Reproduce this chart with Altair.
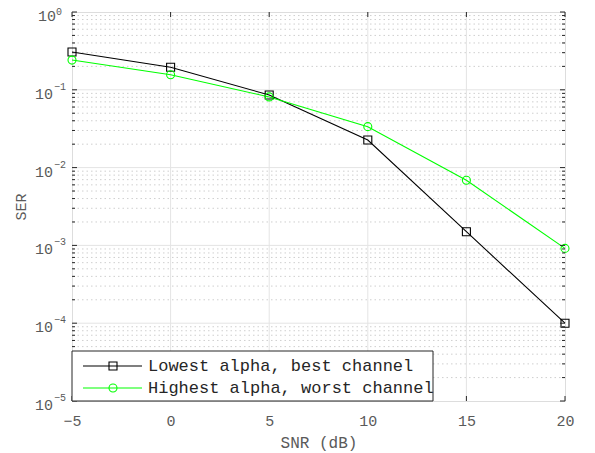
import altair as alt
import pandas as pd

snr = [-5, 0, 5, 10, 15, 20]
ser_best = [0.306, 0.195, 0.0857, 0.0226, 0.00150, 0.000100]
ser_worst = [0.241, 0.156, 0.081, 0.0336, 0.00687, 0.000915]
series_names = ["Lowest alpha, best channel", "Highest alpha, worst channel"]
series_colors = ["#000000", "#00ff00"]
series_shapes = ["square", "circle"]

x_ticks = [-5, 0, 5, 10, 15, 20]
x_grid = [0, 5, 10, 15]
y_exponents = [0, -1, -2, -3, -4, -5]
y_major_grid = [1e-1, 1e-2, 1e-3, 1e-4]
y_minor = [m * 10.0 ** k for k in range(-5, 0) for m in range(2, 10)]

W, H = 493, 389
FONT = "Liberation Mono"
LABEL_COLOR = "#5a5a5a"

df = pd.DataFrame({
    "snr": snr * 2,
    "ser": ser_best + ser_worst,
    "series": [series_names[0]] * len(snr) + [series_names[1]] * len(snr),
})

xs = alt.Scale(domain=[-5, 20], nice=False, zero=False)
ys = alt.Scale(type="log", domain=[1e-5, 1], nice=False)

xaxis = alt.Axis(
    values=x_ticks, title="SNR (dB)", grid=False, ticks=False, domain=False,
    labelFont=FONT, labelFontSize=15, labelColor=LABEL_COLOR, labelPadding=12,
    labelFlush=False, labelOverlap=False,
    labelExpr="datum.value < 0 ? '\u2212' + abs(datum.value) : datum.label",
    titleFont=FONT, titleFontSize=16, titleFontWeight="normal", titleColor=LABEL_COLOR,
    titlePadding=6)
yaxis = alt.Axis(
    labels=False, ticks=False, domain=False, grid=False, title="SER",
    titleFont=FONT, titleFontSize=15, titleFontWeight="normal", titleColor=LABEL_COLOR,
    titlePadding=44)

minor_grid = alt.Chart(pd.DataFrame({"v": y_minor})).mark_rule(
    color="#cfcfcf", strokeWidth=1, strokeDash=[1.5, 3]
).encode(y=alt.Y("v:Q", scale=ys, axis=yaxis))

major_grid_y = alt.Chart(pd.DataFrame({"v": y_major_grid})).mark_rule(
    color="#e4e4e4", strokeWidth=1
).encode(y=alt.Y("v:Q", scale=ys, axis=yaxis))

major_grid_x = alt.Chart(pd.DataFrame({"v": x_grid})).mark_rule(
    color="#e4e4e4", strokeWidth=1
).encode(x=alt.X("v:Q", scale=xs, axis=xaxis))

color_scale = alt.Scale(domain=series_names, range=series_colors)
shape_scale = alt.Scale(domain=series_names, range=series_shapes)

lines = alt.Chart(df).mark_line(strokeWidth=1.1).encode(
    x=alt.X("snr:Q", scale=xs, axis=xaxis),
    y=alt.Y("ser:Q", scale=ys, axis=yaxis),
    color=alt.Color("series:N", scale=color_scale, legend=None),
)

points = alt.Chart(df).mark_point(filled=False, strokeWidth=1.1, size=64, opacity=1).encode(
    x=alt.X("snr:Q", scale=xs, axis=xaxis),
    y=alt.Y("ser:Q", scale=ys, axis=yaxis),
    color=alt.Color("series:N", scale=color_scale, legend=None),
    shape=alt.Shape("series:N", scale=shape_scale, legend=None),
)

# inward ticks
major_y_vals = [10.0 ** e for e in y_exponents]
yt_major = pd.DataFrame({"v": major_y_vals})
yt_minor = pd.DataFrame({"v": y_minor})
tick_color = "#262626"
ticks_layers = [
    alt.Chart(yt_major).mark_rule(color=tick_color).encode(
        y=alt.Y("v:Q", scale=ys, axis=yaxis), x=alt.value(0), x2=alt.value(5)),
    alt.Chart(yt_major).mark_rule(color=tick_color).encode(
        y=alt.Y("v:Q", scale=ys, axis=yaxis), x=alt.value(W - 5), x2=alt.value(W)),
    alt.Chart(yt_minor).mark_rule(color=tick_color).encode(
        y=alt.Y("v:Q", scale=ys, axis=yaxis), x=alt.value(0), x2=alt.value(3)),
    alt.Chart(yt_minor).mark_rule(color=tick_color).encode(
        y=alt.Y("v:Q", scale=ys, axis=yaxis), x=alt.value(W - 3), x2=alt.value(W)),
    alt.Chart(pd.DataFrame({"v": x_ticks})).mark_rule(color=tick_color).encode(
        x=alt.X("v:Q", scale=xs, axis=xaxis), y=alt.value(H - 5), y2=alt.value(H)),
    alt.Chart(pd.DataFrame({"v": x_ticks})).mark_rule(color=tick_color).encode(
        x=alt.X("v:Q", scale=xs, axis=xaxis), y=alt.value(0), y2=alt.value(5)),
]

# y tick labels 10^k
ylab = pd.DataFrame({
    "v": major_y_vals,
    "base": ["10"] * len(y_exponents),
    "exp": [("\u2212" + str(-e)) if e < 0 else str(e) for e in y_exponents],
    "e": y_exponents,
})
ylab_base = alt.Chart(ylab).transform_calculate(
    px="datum.e == 0 ? -34 : -37"
).mark_text(font=FONT, fontSize=15, color=LABEL_COLOR, align="left", baseline="middle", dy=4).encode(
    y=alt.Y("v:Q", scale=ys, axis=yaxis), x=alt.X("px:Q", scale=None), text="base:N")
ylab_exp = alt.Chart(ylab).transform_filter("datum.e < 0").transform_calculate(
    px="-18"
).mark_text(font=FONT, fontSize=10, color=LABEL_COLOR, align="left", baseline="middle", dy=-3).encode(
    y=alt.Y("v:Q", scale=ys, axis=yaxis), x=alt.X("px:Q", scale=None), text="exp:N")
ylab_exp0 = alt.Chart(ylab).transform_filter("datum.e == 0").transform_calculate(
    px="-16"
).mark_text(font=FONT, fontSize=10, color=LABEL_COLOR, align="left", baseline="middle", dy=0).encode(
    y=alt.Y("v:Q", scale=ys, axis=yaxis), x=alt.X("px:Q", scale=None), text="exp:N")

# legend box
leg_box = alt.Chart(pd.DataFrame({"a": [0]})).mark_rect(
    fill="white", stroke="#262626", strokeWidth=1
).encode(x=alt.value(0), x2=alt.value(361), y=alt.value(H - 50), y2=alt.value(H))

leg_df = pd.DataFrame({"series": series_names, "row": [0, 1]})
row_y = "datum.row == 0 ? %d : %d" % (H - 35, H - 13)
leg_lines = alt.Chart(leg_df).transform_calculate(py=row_y, x1="11", x2="70").mark_rule(
    strokeWidth=1.1).encode(
    x=alt.X("x1:Q", scale=None), x2="x2:Q", y=alt.Y("py:Q", scale=None),
    color=alt.Color("series:N", scale=color_scale, legend=None))
leg_pts = alt.Chart(leg_df).transform_calculate(py=row_y, px="41").mark_point(
    filled=False, strokeWidth=1.1, size=64, opacity=1).encode(
    x=alt.X("px:Q", scale=None), y=alt.Y("py:Q", scale=None),
    color=alt.Color("series:N", scale=color_scale, legend=None),
    shape=alt.Shape("series:N", scale=shape_scale, legend=None))
leg_txt = alt.Chart(leg_df).transform_calculate(py=row_y, px="76").mark_text(
    font=FONT, fontSize=17, color="#262626", align="left", baseline="middle").encode(
    x=alt.X("px:Q", scale=None), y=alt.Y("py:Q", scale=None), text="series:N")

chart = alt.layer(
    minor_grid, major_grid_y, major_grid_x, lines, points, *ticks_layers,
    ylab_base, ylab_exp, ylab_exp0, leg_box, leg_lines, leg_pts, leg_txt
).properties(
    width=W, height=H,
    autosize=alt.AutoSizeParams(type="none"),
    padding={"left": 64, "top": 4, "right": 14, "bottom": 52},
).configure_view(stroke="#262626", strokeWidth=1).configure(background="white")

chart.save("out.html", embed_options={"renderer": "svg", "actions": False})
